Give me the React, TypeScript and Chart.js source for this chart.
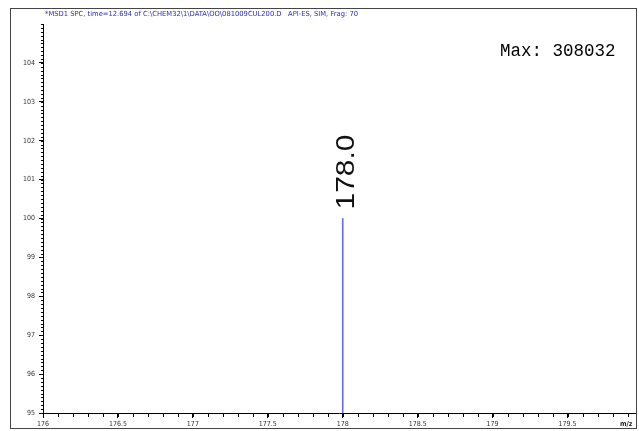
import React, { useEffect, useRef } from "react";
import { Chart, registerables } from "chart.js";

Chart.register(...registerables);

// ---- data ----
const peakMz: number[] = [178.0];
const peakAbundance: number[] = [100];
const peakLabels: string[] = ["178.0"];
const xMin = 176;
const xMax = 179.95;
const yMin = 95;
const yMax = 105;
const xTickValues: number[] = [176, 176.5, 177, 177.5, 178, 178.5, 179, 179.5];
const yTickValues: number[] = [95, 96, 97, 98, 99, 100, 101, 102, 103, 104];
const titleText =
  "*MSD1 SPC, time=12.694 of C:\\CHEM32\\1\\DATA\\OO\\081009CUL200.D   API-ES, SIM, Frag: 70";
const maxText = "Max: 308032";
const xUnitText = "m/z";

const SMALL_FONT = "'Liberation Sans Narrow', 'DejaVu Sans Condensed', 'Liberation Sans', sans-serif";

const decorPlugin = {
  id: "decor",
  afterDraw(chart: any) {
    const ctx: CanvasRenderingContext2D = chart.ctx;
    const xs = chart.scales.x;
    const ys = chart.scales.y;
    const area = chart.chartArea;
    ctx.save();
    // frame
    ctx.strokeStyle = "#444";
    ctx.lineWidth = 1;
    ctx.strokeRect(10.5, 8.5, 626, 420);

    // minor ticks y
    ctx.strokeStyle = "#000";
    ctx.beginPath();
    for (let i = 0; i <= (yMax - yMin) * 10; i++) {
      const v = yMin + i / 10;
      const py = Math.round(ys.getPixelForValue(v)) + 0.5;
      ctx.moveTo(area.left - 2, py);
      ctx.lineTo(area.left, py);
    }
    // minor ticks x
    for (let i = 0; i <= Math.floor((xMax - xMin) * 10 + 1e-6); i++) {
      const v = xMin + i / 10;
      const px = Math.round(xs.getPixelForValue(v)) + 0.5;
      ctx.moveTo(px, area.bottom);
      ctx.lineTo(px, area.bottom + 4);
    }
    ctx.stroke();

    // title
    ctx.fillStyle = "#2b2bc4";
    ctx.font = "7px " + SMALL_FONT;
    ctx.textBaseline = "middle";
    ctx.textAlign = "left";
    const tw = ctx.measureText(titleText).width;
    ctx.save();
    ctx.translate(45, 14);
    ctx.scale(313 / tw, 1);
    ctx.fillText(titleText, 0, 0);
    ctx.restore();

    // Max text
    ctx.fillStyle = "#000";
    ctx.font = "17.5px 'Liberation Mono', 'Courier New', monospace";
    ctx.textBaseline = "middle";
    ctx.fillText(maxText, 500, 51);

    // m/z
    ctx.font = "bold 7px " + SMALL_FONT;
    ctx.fillStyle = "#222";
    ctx.fillText(xUnitText, 620, 424);

    // peak labels
    const meta = chart.getDatasetMeta(0);
    meta.data.forEach((el: any, i: number) => {
      const label = peakLabels[i];
      ctx.save();
      ctx.font = "26px 'Liberation Sans', Arial, sans-serif";
      ctx.fillStyle = "#111";
      ctx.textAlign = "left";
      ctx.textBaseline = "alphabetic";
      const w = ctx.measureText(label).width;
      ctx.translate(el.x + 11, el.y - 9);
      ctx.rotate(-Math.PI / 2);
      ctx.scale(75 / w, 1);
      ctx.fillText(label, 0, 0);
      ctx.restore();
    });
    ctx.restore();
  },
};

export default function App() {
  const ref = useRef<HTMLCanvasElement | null>(null);
  useEffect(() => {
    if (!ref.current) return;
    const chart = new Chart(ref.current, {
      type: "bar",
      data: {
        datasets: [
          {
            data: peakMz.map((m, i) => ({ x: m, y: peakAbundance[i] })),
            backgroundColor: "#6b6bf2",
            borderWidth: 0,
            barThickness: 1,
            base: yMin,
          } as any,
        ],
      },
      options: {
        animation: false,
        responsive: false,
        devicePixelRatio: 1,
        layout: { padding: { top: 24, right: 4, left: 0, bottom: 0 } },
        plugins: {
          legend: { display: false },
          tooltip: { enabled: false },
          title: { display: false },
        },
        scales: {
          x: {
            type: "linear",
            min: xMin,
            max: xMax,
            offset: false,
            afterBuildTicks: (s: any) => {
              s.ticks = xTickValues.map((v) => ({ value: v }));
            },
            afterFit: (s: any) => {
              s.height = 18;
            },
            grid: {
              drawOnChartArea: false,
              drawTicks: true,
              tickLength: 5,
              color: "#000",
              offset: false,
            },
            border: { display: true, color: "#000", width: 1 },
            ticks: {
              autoSkip: false,
              maxRotation: 0,
              padding: 2,
              color: "#333",
              font: { size: 7, family: SMALL_FONT },
              callback: (v: any) => String(v),
            },
          },
          y: {
            type: "linear",
            min: yMin,
            max: yMax,
            afterBuildTicks: (s: any) => {
              s.ticks = yTickValues.map((v) => ({ value: v }));
            },
            afterFit: (s: any) => {
              s.width = 43;
            },
            grid: {
              drawOnChartArea: false,
              drawTicks: true,
              tickLength: 4,
              color: "#000",
            },
            border: { display: true, color: "#000", width: 1 },
            ticks: {
              autoSkip: false,
              padding: 4,
              color: "#333",
              font: { size: 7, family: SMALL_FONT },
              callback: (v: any) => String(v),
            },
          },
        },
      } as any,
      plugins: [decorPlugin],
    });
    return () => chart.destroy();
  }, []);
  return (
    <div style={{ position: "absolute", left: 0, top: 0, width: 639, height: 431, background: "#fff" }}>
      <canvas ref={ref} width={639} height={431} style={{ width: 639, height: 431 }} />
    </div>
  );
}
